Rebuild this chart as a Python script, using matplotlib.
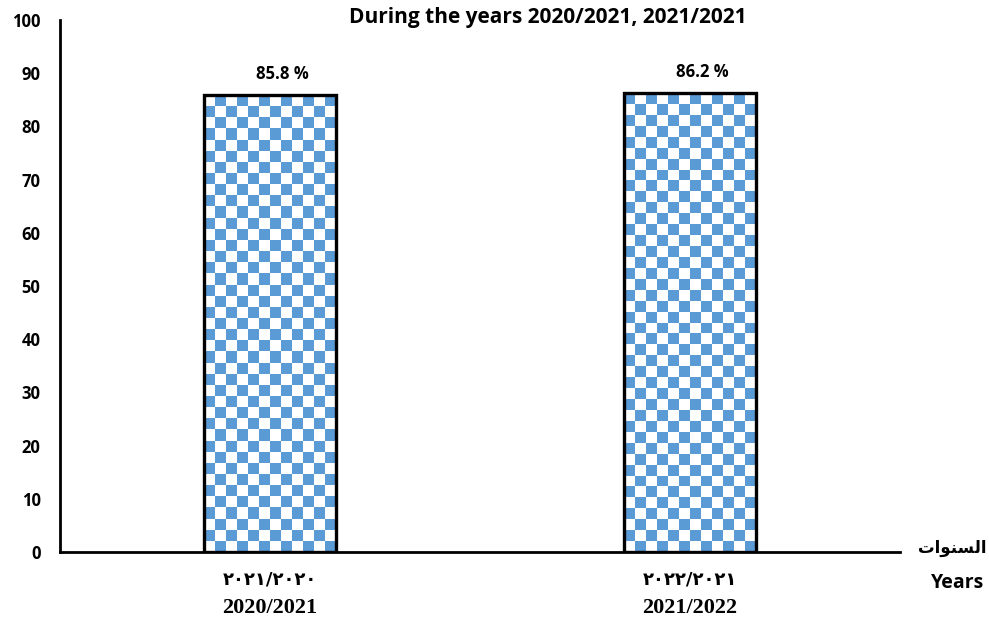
import numpy as np
from matplotlib import pyplot as plt

years_ar = ["\u0662\u0660\u0662\u0661/\u0662\u0660\u0662\u0660", "\u0662\u0660\u0662\u0662/\u0662\u0660\u0662\u0661"]
years_en = ["2020/2021", "2021/2022"]
values = [85.8, 86.2]
title = "During the years 2020/2021, 2021/2021"
yticks = list(range(0, 101, 10))

blue = '#5b9bd5'

fig = plt.figure(figsize=(9.89, 6.23), dpi=100)
ax = fig.add_axes([0.0607, 0.114, 0.849, 0.854])

x = np.arange(len(values))
width = 0.314
bars = ax.bar(x, values, width, facecolor='none', edgecolor='black', linewidth=2.4, zorder=3)

# checkerboard fill clipped to each bar
for b in bars:
    x0 = b.get_x()
    h = b.get_height()
    nx = 12
    ny = int(round(h * 5.32 / 11))
    board = (np.add.outer(np.arange(ny), np.arange(nx)) % 2).astype(float)
    cmap = plt.matplotlib.colors.ListedColormap(['white', blue])
    im = ax.imshow(board, extent=(x0, x0 + width, 0, h), origin='lower', cmap=cmap,
                   aspect='auto', interpolation='nearest', zorder=2)
    im.set_clip_path(b)

for i in range(len(values)):
    ax.text(x[i] + 0.03, values[i] + 2.3, str(values[i]) + " %", ha='center', va='bottom',
            fontsize=12, fontweight='bold', family='Open Sans')

ax.set_xlim(-0.5, 1.5)
ax.set_ylim(0, 100)
ax.set_yticks(yticks)
ax.set_yticklabels([str(t) for t in yticks], fontsize=12, fontweight='bold', family='Open Sans')
ax.tick_params(axis='y', length=0, pad=14)
ax.tick_params(axis='x', length=0)
ax.set_xticks(x)
ax.set_xticklabels([""] * len(x))
for s in ['top', 'right']:
    ax.spines[s].set_visible(False)
ax.spines['left'].set_linewidth(2)
ax.spines['bottom'].set_linewidth(2)

for i in range(len(x)):
    ax.annotate(years_ar[i], (x[i], 0), xycoords='data', xytext=(0, -20), textcoords='offset points',
                ha='center', va='center', fontsize=13, fontweight='bold', family='DejaVu Sans')
    ax.annotate(years_en[i], (x[i], 0), xycoords='data', xytext=(0, -40), textcoords='offset points',
                ha='center', va='center', fontsize=16, fontweight='bold', family='Liberation Serif')

fig.text(952 / 989, (623 - 548) / 623, "\uFE95\uFE8D\uFEEE\uFEE8\uFEB4\uFEDF\uFE8D",
         ha='center', va='center', fontsize=12, fontweight='bold', family='DejaVu Sans')
fig.text(958 / 989, (623 - 583) / 623, "Years", ha='center', va='center', fontsize=14,
         fontweight='bold', family='Open Sans')
fig.text(548 / 989, (623 - 17) / 623, title, ha='center', va='center', fontsize=15,
         fontweight='bold', family='Open Sans')

fig.savefig('out.png', dpi=100)
